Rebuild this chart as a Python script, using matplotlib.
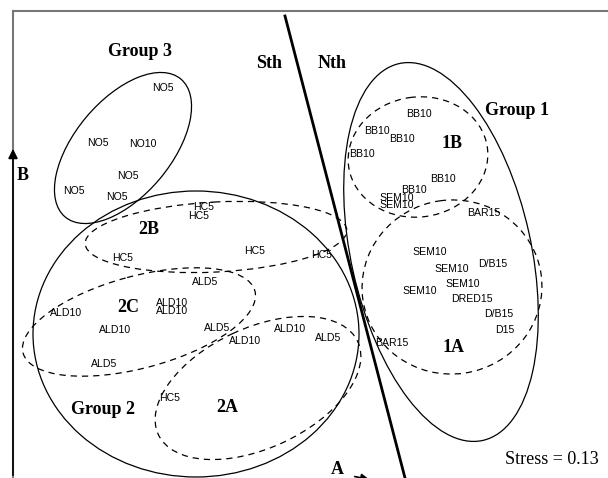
import matplotlib
matplotlib.use("Agg")
from matplotlib import pyplot as plt
from matplotlib.patches import Ellipse

# sample labels and their ordination positions (picture pixels)
sample_names = ["NO5", "NO5", "NO10", "NO5", "NO5", "NO5",
                "HC5", "HC5", "HC5", "HC5", "HC5",
                "ALD5", "ALD10", "ALD10", "ALD10", "ALD10", "ALD5", "ALD10",
                "ALD10", "ALD5", "ALD5", "HC5",
                "BB10", "BB10", "BB10", "BB10", "BB10", "BB10", "SEM10", "SEM10",
                "BAR15", "SEM10", "SEM10", "D/B15", "SEM10", "SEM10", "DRED15",
                "D/B15", "D15", "BAR15"]
sample_x = [163, 98, 143, 128, 74, 117,
            204, 199, 123, 255, 322,
            205, 172, 172, 66, 115, 217, 290,
            245, 104, 328, 170,
            419, 377, 402, 362, 443, 414, 397, 397,
            484, 430, 452, 493, 463, 420, 472,
            499, 505, 392]
sample_y = [88, 143, 144, 176, 191, 197,
            207, 216, 258, 251, 255,
            282, 303, 311, 313, 330, 328, 329,
            341, 364, 338, 398,
            114, 131, 139, 154, 179, 190, 198, 205,
            213, 252, 269, 264, 284, 291, 299,
            314, 330, 343]

# group outlines: centre x, centre y, width, height, tilt (deg, anticlockwise on screen)
group_cx = [123, 196, 441]
group_cy = [148, 334, 252]
group_w = [90 * 2, 163 * 2, 90 * 2]
group_h = [48 * 2, 143 * 2, 193 * 2]
group_tilt = [50, 0, 12.5]

sub_cx = [418, 452, 216, 139, 258]
sub_cy = [157, 287, 237, 322, 388]
sub_w = [140, 180, 262, 240, 220]
sub_h = [120, 174, 70, 92, 120]
sub_tilt = [8, 8, 3, 15, 25]

# bold annotations
bold_text = ["Group 3", "Sth", "Nth", "Group 1", "1B", "2B", "2C", "Group 2", "2A", "1A", "B", "A"]
bold_x = [140, 269, 332, 517, 452, 149, 128, 103, 227, 454, 23, 337]
bold_y = [51, 63, 63, 110, 144, 229, 307, 409, 408, 348, 175, 470]

fig = plt.figure(figsize=(6.08, 4.78), dpi=100)
ax = fig.add_axes([0, 0, 1, 1])
ax.set_xlim(0, 608)
ax.set_ylim(478, 0)
ax.axis("off")

# frame
ax.plot([13, 608], [11, 11], color="#777777", lw=1.5)
ax.plot([13, 13], [11, 478], color="#777777", lw=1.5)
# axis B arrow
ax.annotate("", xy=(13, 146), xytext=(13, 478),
            arrowprops=dict(arrowstyle="-|>", color="black", lw=1.2, mutation_scale=14))
# axis A arrow (cut off at the bottom)
ax.annotate("", xy=(372, 480), xytext=(352, 476),
            arrowprops=dict(arrowstyle="-|>", color="black", lw=1.2, mutation_scale=12),
            annotation_clip=False)

# north/south dividing line
ax.plot([285, 405], [16, 478], color="black", lw=2.0)

# y axis is inverted, so a negative patch angle turns anticlockwise on screen
for cx, cy, w, h, t in zip(group_cx, group_cy, group_w, group_h, group_tilt):
    ax.add_patch(Ellipse((cx, cy), w, h, angle=-t, fill=False, ec="black", lw=0.9))

for cx, cy, w, h, t in zip(sub_cx, sub_cy, sub_w, sub_h, sub_tilt):
    ax.add_patch(Ellipse((cx, cy), w, h, angle=-t, fill=False, ec="black", lw=0.9,
                         ls=(0, (5, 4))))

for name, x, y in zip(sample_names, sample_x, sample_y):
    ax.text(x, y, name, fontsize=7.6, family="Liberation Sans", ha="center", va="center")

for name, x, y in zip(bold_text, bold_x, bold_y):
    ax.text(x, y, name, fontsize=13, family="Liberation Serif", weight="bold",
            ha="center", va="center")

ax.text(552, 459, "Stress = 0.13", fontsize=13, family="Liberation Serif",
        ha="center", va="center")

plt.savefig("out.png", dpi=100)
